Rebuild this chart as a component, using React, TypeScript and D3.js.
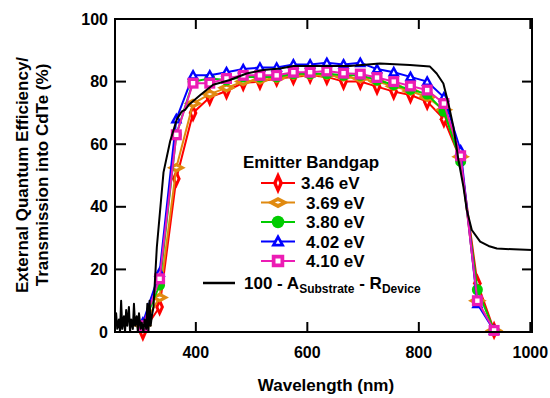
import React from 'react';
import * as d3 from 'd3';

const wavelengths = [305, 335, 365, 395, 425, 455, 485, 515, 545, 575, 605, 635, 665, 695, 725, 755, 785, 815, 845, 875, 905, 935];
const eqe346 = [0, 8, 49, 70, 75, 77, 79.6, 80, 81, 81.5, 82, 81.5, 80, 80, 78.4, 76.8, 75.7, 73.6, 68, 55, 15.6, 0.5];
const eqe369 = [2, 11, 52.5, 73, 76, 78, 80, 80.5, 81, 82, 82, 82, 81.5, 81, 80, 78.5, 77, 75, 71, 56, 10, 0.5];
const eqe380 = [2, 15, 63, 80, 81, 80.5, 81.5, 81.5, 81.5, 82.5, 82.5, 82.5, 82, 82, 80.5, 79, 77.5, 76, 70.5, 54.5, 13.5, 0.5];
const eqe402 = [3, 19, 68, 82, 82, 83, 84, 84.5, 84.5, 85.5, 85.5, 86, 85.5, 86, 84, 83, 81.5, 80, 75, 58, 9, 0.5];
const eqe410 = [2, 17, 63, 79.5, 79.5, 81, 82, 82, 82, 83, 83, 83.4, 82.7, 82.4, 81.3, 80, 78.6, 77.3, 73, 56.3, 10, 0.5];

const transWl = [255, 257, 259, 262, 264, 266, 268, 271, 273, 275, 277, 280, 282, 284, 287, 289, 291, 294, 296, 298, 301, 303, 306, 308, 311, 313, 315, 317, 319, 321,
  324, 330, 342, 354, 366, 375, 381, 387, 408, 431, 461, 491, 521, 551, 575, 611, 676, 730, 784, 820, 832, 844, 853, 862, 871, 880, 886, 895, 910, 925, 940, 970, 1003];
const transVal = [2, 6, 1, 4, 0, 10, 1, 5, 0, 7, 2, 8, 0, 4, 1, 9, 2, 5, 0, 6, 1, 3, 0, 4, 1, 9, 0, 10, 2, 5,
  8, 27, 51, 61, 68, 70.5, 71, 72.5, 75.7, 79, 80.5, 82.6, 83.7, 84.2, 85, 85, 85, 85.8, 85.3, 84.8, 82.6, 79.4, 73, 65.6, 55, 46.4, 39, 32.6, 28.9, 27.5, 26.7, 26.4, 26.2];

const xTicks = [400, 600, 800, 1000];
const yTicks = [0, 20, 40, 60, 80, 100];
const legendLabels = ['3.46 eV', '3.69 eV', '3.80 eV', '4.02 eV', '4.10 eV'];
const seriesColors = ['#FF0000', '#E08A10', '#00CC00', '#0000FF', '#EC1CB4'];
const seriesShapes = ['tallDiamond', 'wideDiamond', 'circle', 'triangle', 'square'];

const FONT = '"Liberation Sans", Arial, Helvetica, sans-serif';

function markerEl(shape: string, cx: number, cy: number, color: string, s: number, key: string) {
  if (shape === 'circle') {
    return <circle key={key} cx={cx} cy={cy} r={5 * s} fill={color} />;
  }
  let outer = '';
  let inner = '';
  if (shape === 'tallDiamond') {
    const w = 4 * s, h = 9 * s;
    outer = `M${cx},${cy - h}L${cx + w},${cy}L${cx},${cy + h}L${cx - w},${cy}Z`;
    inner = `M${cx},${cy - 2.5 * s}L${cx + 1 * s},${cy}L${cx},${cy + 2.5 * s}L${cx - 1 * s},${cy}Z`;
  } else if (shape === 'wideDiamond') {
    const w = 8.5 * s, h = 4.5 * s;
    outer = `M${cx},${cy - h}L${cx + w},${cy}L${cx},${cy + h}L${cx - w},${cy}Z`;
    inner = `M${cx},${cy - 1 * s}L${cx + 2.5 * s},${cy}L${cx},${cy + 1 * s}L${cx - 2.5 * s},${cy}Z`;
  } else if (shape === 'triangle') {
    const w = 5.5 * s, h = 10 * s;
    outer = `M${cx},${cy - h * 0.6}L${cx + w},${cy + h * 0.4}L${cx - w},${cy + h * 0.4}Z`;
    inner = `M${cx},${cy - 1.5 * s}L${cx + 1.8 * s},${cy + 1.8 * s}L${cx - 1.8 * s},${cy + 1.8 * s}Z`;
  } else {
    const h = 5 * s;
    outer = `M${cx - h},${cy - h}H${cx + h}V${cy + h}H${cx - h}Z`;
    const ih = 2 * s;
    inner = `M${cx - ih},${cy - ih}H${cx + ih}V${cy + ih}H${cx - ih}Z`;
  }
  return (
    <g key={key}>
      <path d={outer} fill={color} />
      <path d={inner} fill="#fff" />
    </g>
  );
}

export default function App() {
  const left = 115, right = 532, top = 19, bottom = 332;
  const x = d3.scaleLinear().domain([255, 1003]).range([left, right]);
  const y = d3.scaleLinear().domain([0, 100]).range([bottom, top]);

  const series = [eqe346, eqe369, eqe380, eqe402, eqe410];
  const line = d3.line<[number, number]>().x(d => x(d[0])).y(d => y(d[1]));
  const blackPts: [number, number][] = transWl.map((w, i) => [w, transVal[i]]);

  const legendY = [183, 202.5, 222, 241.5, 261];

  return (
    <svg width={550} height={398} style={{ position: 'absolute', left: 0, top: 0, background: '#fff' }}
      fontFamily={FONT} fontWeight="bold">
      <rect x={0} y={0} width={550} height={398} fill="#fff" />
      {series.map((vals, si) => {
        const pts: [number, number][] = wavelengths.map((w, i) => [w, vals[i]]);
        return (
          <g key={'s' + si}>
            <path d={line(pts) || ''} fill="none" stroke={seriesColors[si]} strokeWidth={2} />
            {pts.map((p, i) => markerEl(seriesShapes[si], x(p[0]), y(p[1]), seriesColors[si], 1.1, `m${si}-${i}`))}
          </g>
        );
      })}
      <path d={line(blackPts) || ''} fill="none" stroke="#000" strokeWidth={2} strokeLinejoin="round" />

      <rect x={left} y={top} width={right - left} height={bottom - top} fill="none" stroke="#000" strokeWidth={2} />
      {xTicks.map(t => (
        <g key={'xt' + t}>
          <line x1={x(t)} x2={x(t)} y1={bottom} y2={bottom - 10} stroke="#000" strokeWidth={2} />
          <line x1={x(t)} x2={x(t)} y1={top} y2={top + 10} stroke="#000" strokeWidth={2} />
          <text x={x(t)} y={358} textAnchor="middle" fontSize={16}>{t}</text>
        </g>
      ))}
      {yTicks.map(t => (
        <g key={'yt' + t}>
          <line x1={left} x2={left + 11} y1={y(t)} y2={y(t)} stroke="#000" strokeWidth={2} />
          <line x1={right} x2={right - 10} y1={y(t)} y2={y(t)} stroke="#000" strokeWidth={2} />
          <text x={108} y={y(t) + 5.5} textAnchor="end" fontSize={16}>{t}</text>
        </g>
      ))}

      <text x={326} y={391} textAnchor="middle" fontSize={17}>Wavelength (nm)</text>
      <text transform="translate(28,175) rotate(-90)" textAnchor="middle" fontSize={17}>External Quantum Efficiency/</text>
      <text transform="translate(48,175) rotate(-90)" textAnchor="middle" fontSize={17}>Transmission into CdTe (%)</text>

      <text x={243} y={168} fontSize={17}>Emitter Bandgap</text>
      {legendLabels.map((lab, i) => (
        <g key={'lg' + i}>
          <line x1={261} x2={295} y1={legendY[i]} y2={legendY[i]} stroke={seriesColors[i]} strokeWidth={2} />
          {markerEl(seriesShapes[i], 278, legendY[i], seriesColors[i], 1.25, 'lm' + i)}
          <text x={i === 0 ? 301 : 306} y={legendY[i] + 6} fontSize={17}>{lab}</text>
        </g>
      ))}
      <line x1={203} x2={235} y1={283} y2={283} stroke="#000" strokeWidth={2.5} />
      <text x={244} y={289} fontSize={17}>
        100 - A<tspan fontSize={12} dy={4}>Substrate</tspan><tspan dy={-4}> - R</tspan><tspan fontSize={12} dy={4}>Device</tspan>
      </text>
    </svg>
  );
}
